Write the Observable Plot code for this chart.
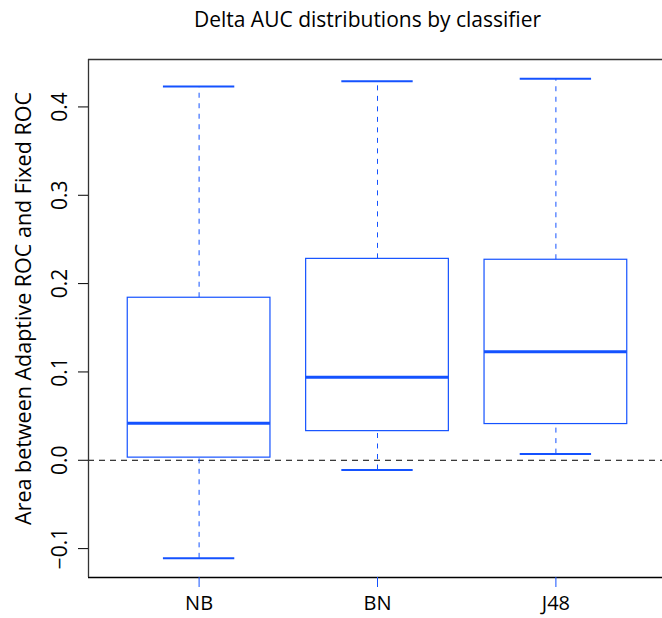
<!DOCTYPE html>
<html>
<head>
<meta charset="utf-8">
<script src="https://cdn.jsdelivr.net/npm/d3@7"></script>
<script src="https://cdn.jsdelivr.net/npm/@observablehq/plot@0.6"></script>
<style>
  body { margin: 0; background: #fff; font-family: "Open Sans", sans-serif; }
  #title { height: 40px; width: 662px; text-align: center; font-size: 21px; line-height: 38px; color: #000; padding-left: 73px; box-sizing: border-box; white-space: nowrap; }
</style>
</head>
<body>
<div id="title">Delta AUC distributions by classifier</div>
<div id="chart"></div>
<script>
const categories = ["NB", "BN", "J48"];
const lowerWhisker = [-0.111, -0.011, 0.007];
const q1 = [0.003, 0.033, 0.041];
const median = [0.042, 0.094, 0.123];
const q3 = [0.184, 0.228, 0.227];
const upperWhisker = [0.423, 0.429, 0.432];
const yTicks = [-0.1, 0.0, 0.1, 0.2, 0.3, 0.4];
const yLabel = "Area between Adaptive ROC and Fixed ROC";

const blue = "#1452ff";
const data = categories.map((c, i) => ({
  cat: c, pos: i + 1,
  lo: lowerWhisker[i], q1: q1[i], med: median[i], q3: q3[i], hi: upperWhisker[i]
}));
const yDomain = [-0.1327, 0.4537];
const xDomain = [0.38, 3.62];

const chart = Plot.plot({
  width: 662,
  height: 578,
  marginLeft: 88,
  marginRight: -4,
  marginTop: 19,
  marginBottom: 41,
  style: { fontFamily: "Open Sans, sans-serif", fontSize: "19px", color: "#000", background: "#fff" },
  x: { domain: xDomain, axis: null },
  y: { domain: yDomain, axis: null },
  marks: [
    // zero reference line
    Plot.ruleY([0], { stroke: "#000", strokeDasharray: "6,5", strokeWidth: 1 }),
    // whiskers
    Plot.ruleX(data, { x: "pos", y1: "q3", y2: "hi", stroke: blue, strokeDasharray: "5,5.5", strokeWidth: 1 }),
    Plot.ruleX(data, { x: "pos", y1: "lo", y2: "q1", stroke: blue, strokeDasharray: "5,5.5", strokeWidth: 1 }),
    // caps
    Plot.ruleY(data, { y: "hi", x1: d => d.pos - 0.2, x2: d => d.pos + 0.2, stroke: blue, strokeWidth: 2 }),
    Plot.ruleY(data, { y: "lo", x1: d => d.pos - 0.2, x2: d => d.pos + 0.2, stroke: blue, strokeWidth: 2 }),
    // boxes
    Plot.rect(data, { x1: d => d.pos - 0.4, x2: d => d.pos + 0.4, y1: "q1", y2: "q3", fill: "white", stroke: blue, strokeWidth: 1.2 }),
    // medians
    Plot.ruleY(data, { y: "med", x1: d => d.pos - 0.4, x2: d => d.pos + 0.4, stroke: blue, strokeWidth: 3 }),
    // frame
    Plot.ruleY([yDomain[1]], { x1: xDomain[0], x2: xDomain[1], stroke: "#333", strokeWidth: 1.3 }),
    Plot.ruleY([yDomain[0]], { x1: xDomain[0], x2: xDomain[1], stroke: "#000", strokeWidth: 1.3 }),
    Plot.ruleX([xDomain[0]], { y1: yDomain[0], y2: yDomain[1], stroke: "#333", strokeWidth: 1.3 }),
    // y axis ticks
    Plot.axisY(yTicks, { anchor: "left", tickSize: 10, tickFormat: () => "", stroke: "#000", label: null }),
    Plot.text(yTicks, {
      y: d => d, frameAnchor: "left", dx: -22, rotate: -90,
      text: d => d3.format(".1f")(d).replace("-", "\u2212"),
      textAnchor: "middle", lineAnchor: "bottom", fontSize: 21, fill: "#000"
    }),
    // y label
    Plot.text([yLabel], {
      frameAnchor: "left", dx: -58, dy: -10, rotate: -90,
      textAnchor: "middle", lineAnchor: "bottom", fontSize: 21.5, fill: "#000"
    }),
    // x axis
    Plot.axisX(data.map(d => d.pos), {
      anchor: "bottom", tickSize: 10, tickPadding: 8, stroke: blue, fill: "#000",
      tickFormat: d => categories[d - 1], fontSize: 20, label: null
    })
  ]
});
document.getElementById("chart").appendChild(chart);
</script>
</body>
</html>
